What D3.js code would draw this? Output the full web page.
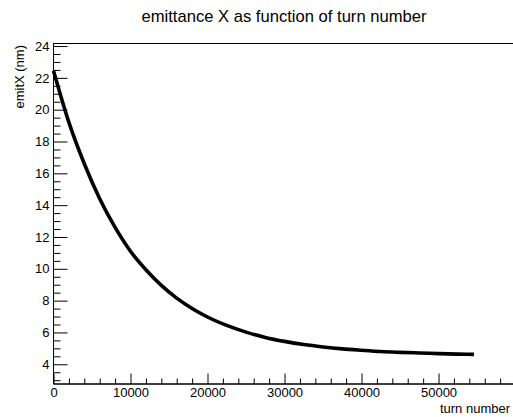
<!DOCTYPE html>
<html>
<head>
<meta charset="utf-8">
<script src="https://cdn.jsdelivr.net/npm/d3@7"></script>
<style>
  html, body { margin: 0; padding: 0; background: #fff; }
  svg { display: block; font-family: "Liberation Sans", Arial, Helvetica, sans-serif; }
</style>
</head>
<body>
<svg id="chart" width="513" height="417"></svg>
<script>
// ---- data ----
const turns = [0, 2000, 4000, 6000, 8000, 10000, 12000, 14000, 16000, 18000, 20000,
               22500, 25000, 27500, 30000, 32500, 35000, 37500, 40000, 42500, 45000,
               47500, 50000, 52500, 54600];
const emitX = [22.45, 19.2, 16.6, 14.4, 12.6, 11.1, 9.94, 8.96, 8.16, 7.51, 6.97,
               6.44, 6.02, 5.69, 5.44, 5.24, 5.09, 4.97, 4.88, 4.80, 4.75,
               4.71, 4.67, 4.64, 4.62];
const yTickLabels = [4, 6, 8, 10, 12, 14, 16, 18, 20, 22, 24];
const xTickLabels = [0, 10000, 20000, 30000, 40000, 50000];
const chartTitle = "emittance X as function of turn number";
const xTitle = "turn number";
const yTitle = "emitX (nm)";

// ---- layout ----
const W = 513, H = 417;
const mLeft = 53.5, mTop = 43.5, mBottom = 384, mRight = 516;

const svg = d3.select("#chart");

const x = d3.scaleLinear().domain([0, 60060]).range([mLeft, mRight]);
const y = d3.scaleLinear().domain([2.76, 24.16]).range([mBottom, mTop]);

// frame top line
svg.append("line").attr("x1", mLeft).attr("x2", W + 5).attr("y1", mTop).attr("y2", mTop)
  .attr("stroke", "#000").attr("stroke-width", 1);

// x axis: major + minor
const xMajor = d3.axisBottom(x).tickValues(xTickLabels).tickSize(-10.5).tickPadding(14)
  .tickFormat(d3.format("d"));
const xMinorVals = d3.range(0, 60001, 2000).filter(v => v % 10000 !== 0);
const xMinor = d3.axisBottom(x).tickValues(xMinorVals).tickSize(-5.5).tickFormat("");

const gxMinor = svg.append("g").attr("transform", `translate(0,${mBottom})`).call(xMinor);
const gx = svg.append("g").attr("transform", `translate(0,${mBottom})`).call(xMajor);
[gx, gxMinor].forEach(a => {
  a.selectAll("path").attr("stroke", "#000").attr("d", `M${mLeft},0H${W + 5}`);
  a.selectAll("line").attr("stroke", "#000");
});
gx.selectAll("text").attr("fill", "#000").style("font-size", "13px").attr("dy", "0.71em").attr("y", 4);

// y axis: major + minor
const yMajor = d3.axisLeft(y).tickValues(yTickLabels).tickSize(-14).tickPadding(4)
  .tickFormat(d3.format("d"));
const yMinorVals = d3.range(3, 24.01, 0.5).filter(v => v % 2 !== 0);
const yMinor = d3.axisLeft(y).tickValues(yMinorVals).tickSize(-7).tickFormat("");

const gyMinor = svg.append("g").attr("transform", `translate(${mLeft},0)`).call(yMinor);
const gy = svg.append("g").attr("transform", `translate(${mLeft},0)`).call(yMajor);
[gy, gyMinor].forEach(a => {
  a.selectAll("path").attr("stroke", "#000").attr("d", `M0,${mTop}V${mBottom}`);
  a.selectAll("line").attr("stroke", "#000");
});
gy.selectAll("text").attr("fill", "#000").style("font-size", "13px").attr("x", -4);

// curve
const line = d3.line()
  .x((d, i) => x(turns[i]))
  .y(d => y(d))
  .curve(d3.curveMonotoneX);
svg.append("path")
  .datum(emitX)
  .attr("d", line)
  .attr("fill", "none")
  .attr("stroke", "#000")
  .attr("stroke-width", 3.6)
  .attr("stroke-linecap", "butt");

// titles
svg.append("text").attr("x", 284).attr("y", 22).attr("text-anchor", "middle")
  .style("font-size", "16.6px").attr("fill", "#000").text(chartTitle);
svg.append("text").attr("x", 510).attr("y", 413).attr("text-anchor", "end")
  .style("font-size", "13px").attr("fill", "#000").text(xTitle);
svg.append("text").attr("transform", "translate(24,45) rotate(-90)").attr("text-anchor", "end")
  .style("font-size", "13px").attr("fill", "#000").text(yTitle);
</script>
</body>
</html>
